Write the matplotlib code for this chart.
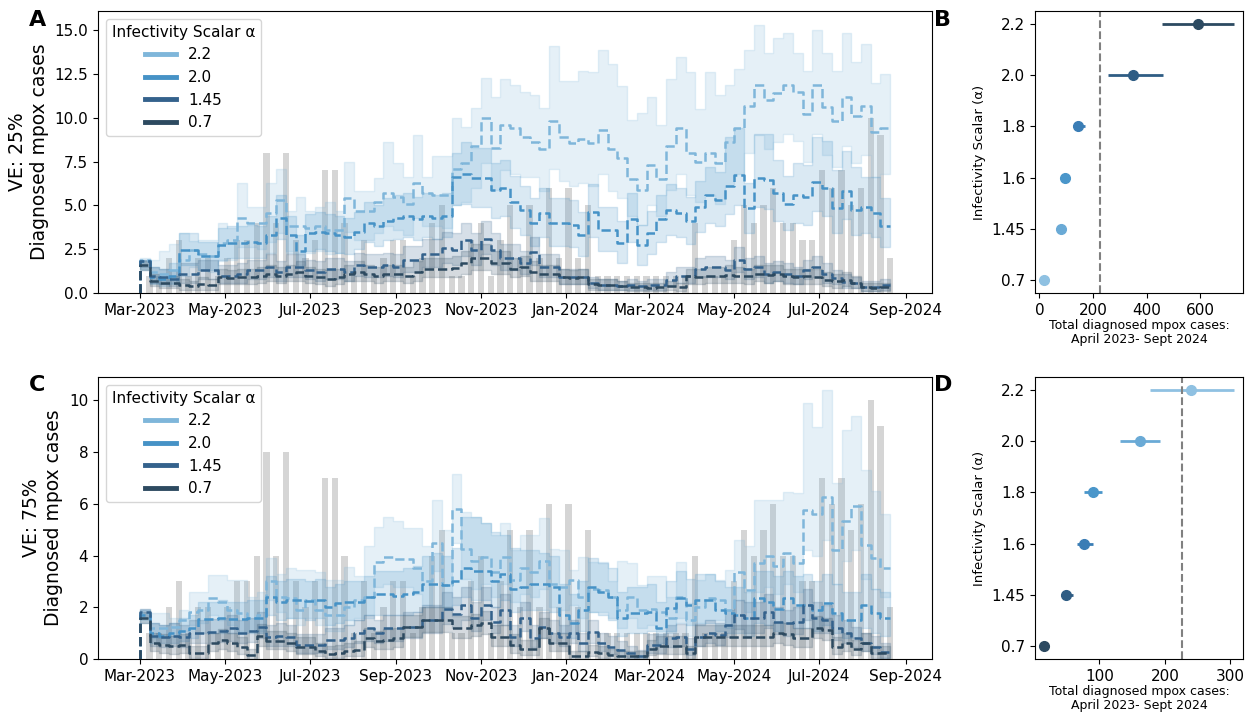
import numpy as np
import pandas as pd
import matplotlib
matplotlib.use('Agg')
import matplotlib.pyplot as plt
import matplotlib.dates as mdates
from matplotlib.lines import Line2D
from matplotlib.ticker import MultipleLocator, FormatStrFormatter

# weekly simulation output, first week starting 2023-03-01
start_date = '2023-03-01'
n_weeks = 77

# observed weekly diagnoses (weeks 1..77)
observed = [1, 1, 2, 3, 1, 2, 2, 1, 2, 3,
            3, 4, 8, 4, 8, 3, 2, 3, 7, 7,
            4, 1, 3, 1, 2, 3, 3, 1, 2, 4,
            5, 1, 1, 3, 4, 1, 3, 5, 2, 5,
            2, 6, 2, 6, 2, 5, 1, 1, 1, 1,
            1, 1, 1, 1, 1, 1, 4, 1, 1, 1,
            3, 5, 4, 5, 6, 4, 4, 3, 3, 7,
            6, 7, 5, 6, 10, 9, 2]
observed_total = 226

scalars = ['2.2', '2.0', '1.45', '0.7']
ts_colors = ['#7fb6da', '#4692c6', '#34628c', '#2d4a60']

# ---- VE 25% ----
a22_mean = [1.9, 1.2, 1.1, 1.3, 1.9, 2.45, 2.2, 2.1, 2.85, 3.0,
            4.3, 4.0, 4.0, 4.55, 5.3, 3.8, 3.8, 3.7, 3.8, 3.6,
            3.6, 5.4, 4.7, 4.7, 5.2, 5.7, 5.5, 5.1, 6.3, 5.7,
            5.6, 5.6, 7.1, 7.4, 8.4, 10.0, 8.3, 9.6, 9.4, 8.9,
            8.6, 8.2, 9.8, 8.9, 8.55, 8.8, 8.55, 9.3, 8.2, 7.7,
            6.5, 5.9, 7.3, 6.5, 8.4, 9.4, 8.0, 7.5, 8.0, 7.4,
            8.6, 9.4, 10.7, 11.9, 11.0, 11.4, 11.9, 11.5, 10.2, 11.9,
            10.6, 9.8, 11.2, 10.1, 10.7, 9.2, 9.4]
a22_hi = [2.0, 1.9, 2.4, 2.8, 3.4, 2.95, 3.0, 3.0, 4.0, 3.7,
          6.3, 4.9, 4.9, 6.3, 7.1, 4.7, 5.5, 4.7, 4.9, 5.2,
          4.7, 7.5, 5.8, 5.8, 6.55, 8.65, 7.4, 6.65, 9.0, 6.65,
          7.8, 7.8, 10.0, 9.5, 10.55, 12.3, 11.2, 12.2, 11.9, 11.5,
          11.3, 10.55, 14.1, 12.1, 12.1, 12.7, 12.6, 13.9, 13.1, 11.8,
          9.9, 10.3, 11.2, 9.6, 12.2, 13.5, 12.6, 10.5, 12.6, 11.3,
          11.9, 12.8, 13.9, 15.3, 13.7, 14.55, 14.85, 13.7, 12.7, 15.0,
          13.7, 12.7, 14.85, 13.2, 14.2, 12.0, 12.5]
a22_lo = [1.4, 0.6, 0.5, 0.6, 1.0, 1.5, 1.3, 1.2, 1.8, 1.9,
          2.6, 2.6, 2.5, 2.9, 3.4, 2.4, 2.3, 2.3, 2.4, 2.2,
          2.3, 3.5, 3.0, 3.0, 3.4, 3.8, 3.6, 3.3, 4.3, 3.8,
          3.8, 3.7, 5.0, 5.2, 6.0, 7.4, 5.9, 7.0, 6.8, 6.6,
          6.6, 5.8, 7.1, 6.4, 6.1, 6.3, 6.1, 6.8, 5.8, 5.4,
          4.4, 3.9, 5.0, 4.4, 5.9, 6.8, 5.6, 5.2, 5.6, 5.1,
          6.1, 6.8, 8.0, 9.0, 8.2, 8.6, 9.1, 8.7, 7.5, 9.1,
          7.9, 7.2, 8.4, 7.4, 7.9, 6.6, 6.8]

a20_mean = [1.8, 0.9, 0.8, 1.0, 2.45, 2.45, 2.1, 2.1, 2.75, 2.85,
            2.85, 2.9, 2.85, 3.3, 4.3, 3.3, 2.4, 3.4, 3.5, 3.4,
            3.3, 3.2, 3.5, 4.0, 3.8, 4.1, 4.3, 4.4, 4.2, 4.4,
            4.3, 4.4, 6.6, 6.8, 6.55, 6.55, 5.9, 6.0, 5.2, 4.75,
            4.0, 4.55, 4.0, 4.0, 3.9, 3.3, 4.65, 3.6, 3.6, 2.85,
            4.2, 2.75, 3.4, 4.2, 4.75, 4.55, 4.1, 4.9, 5.6, 5.3,
            6.1, 6.75, 4.85, 6.55, 6.45, 5.7, 5.1, 5.6, 5.5, 6.35,
            6.0, 4.85, 5.8, 4.75, 4.9, 4.55, 3.8]
a20_hi = [1.9, 1.5, 1.4, 1.7, 3.4, 3.4, 2.9, 2.9, 3.7, 3.8,
          3.8, 3.9, 3.8, 4.4, 5.6, 4.4, 3.3, 4.5, 4.6, 4.5,
          4.4, 4.3, 4.6, 5.2, 5.0, 5.4, 5.6, 5.7, 5.5, 5.7,
          5.6, 5.7, 8.0, 8.6, 8.3, 8.3, 7.4, 7.6, 6.7, 6.1,
          5.4, 6.0, 5.4, 5.4, 5.3, 4.6, 6.2, 4.9, 4.9, 4.1,
          5.7, 3.9, 4.7, 5.6, 6.2, 6.0, 5.5, 6.4, 7.2, 6.9,
          8.9, 9.4, 6.3, 9.1, 9.1, 7.6, 6.7, 7.4, 7.3, 8.9,
          8.7, 7.0, 8.1, 7.2, 6.6, 6.6, 5.4]
a20_lo = [1.3, 0.5, 0.4, 0.5, 1.6, 1.6, 1.3, 1.3, 1.9, 2.0,
          2.0, 2.0, 2.0, 2.3, 3.1, 2.3, 1.6, 2.4, 2.5, 2.4,
          2.3, 2.2, 2.5, 2.9, 2.7, 3.0, 3.1, 3.2, 3.0, 3.2,
          3.1, 3.2, 5.0, 5.1, 4.9, 4.9, 4.3, 4.4, 3.7, 3.3,
          2.7, 3.2, 2.7, 2.7, 2.6, 2.1, 3.2, 2.4, 2.4, 1.7,
          2.9, 1.6, 2.2, 2.9, 3.3, 3.2, 2.8, 3.5, 4.0, 3.8,
          4.5, 5.0, 3.4, 4.9, 4.8, 4.1, 3.6, 4.0, 3.9, 4.7,
          4.4, 3.4, 4.2, 3.3, 3.4, 3.2, 2.6]

a145_mean = [1.8, 1.0, 0.9, 0.8, 1.1, 1.1, 1.3, 1.3, 1.0, 1.0,
             1.1, 1.3, 1.3, 1.5, 1.2, 1.5, 1.5, 1.3, 1.2, 1.4,
             1.4, 1.2, 1.6, 1.5, 1.5, 1.6, 1.5, 1.9, 1.9, 2.25,
             2.25, 2.55, 2.45, 3.0, 2.45, 3.1, 2.45, 2.0, 2.0, 1.7,
             2.35, 1.5, 1.5, 0.9, 0.9, 0.9, 0.55, 0.45, 0.45, 0.4,
             0.45, 0.4, 0.45, 0.45, 0.75, 1.0, 1.0, 1.4, 1.5, 1.5,
             1.3, 1.9, 1.4, 1.5, 1.1, 1.2, 1.1, 0.95, 1.3, 1.5,
             1.1, 0.85, 0.65, 0.55, 0.35, 0.35, 0.45]
a145_hi = [1.9, 1.5, 1.4, 1.3, 1.7, 1.7, 1.9, 1.9, 1.6, 1.6,
           1.7, 1.9, 1.9, 2.2, 1.8, 2.2, 2.2, 1.9, 1.8, 2.0,
           2.0, 1.8, 2.3, 2.2, 2.2, 2.3, 2.2, 2.7, 2.7, 3.1,
           3.1, 3.5, 3.4, 4.0, 3.4, 4.1, 3.4, 2.8, 2.8, 2.4,
           3.2, 2.2, 2.2, 1.4, 1.4, 1.4, 0.9, 0.8, 0.8, 0.7,
           0.8, 0.7, 0.8, 0.8, 1.2, 1.5, 1.5, 2.0, 2.1, 2.1,
           1.9, 2.6, 2.0, 2.1, 1.7, 1.8, 1.7, 1.5, 1.9, 2.1,
           1.7, 1.3, 1.1, 0.9, 0.7, 0.7, 0.8]
a145_lo = [1.5, 0.6, 0.5, 0.4, 0.6, 0.6, 0.8, 0.8, 0.6, 0.6,
           0.6, 0.8, 0.8, 0.9, 0.7, 0.9, 0.9, 0.8, 0.7, 0.8,
           0.8, 0.7, 1.0, 0.9, 0.9, 1.0, 0.9, 1.2, 1.2, 1.5,
           1.5, 1.7, 1.6, 2.1, 1.6, 2.2, 1.6, 1.3, 1.3, 1.1,
           1.6, 0.9, 0.9, 0.5, 0.5, 0.5, 0.3, 0.2, 0.2, 0.2,
           0.2, 0.2, 0.2, 0.2, 0.4, 0.6, 0.6, 0.9, 0.9, 0.9,
           0.8, 1.2, 0.8, 0.9, 0.6, 0.7, 0.6, 0.5, 0.8, 0.9,
           0.6, 0.5, 0.3, 0.3, 0.1, 0.1, 0.2]

a07_mean = [1.6, 0.7, 0.55, 0.6, 0.45, 0.4, 0.5, 0.45, 0.9, 0.85,
            0.9, 0.9, 1.0, 1.1, 1.0, 1.1, 1.2, 1.0, 0.9, 0.8,
            0.9, 1.1, 1.2, 1.1, 1.0, 1.1, 1.1, 1.0, 1.2, 1.4,
            1.4, 1.35, 1.45, 1.7, 2.0, 2.0, 1.7, 1.7, 1.4, 1.5,
            1.2, 1.1, 1.1, 0.9, 0.85, 0.9, 0.5, 0.45, 0.45, 0.4,
            0.35, 0.35, 0.3, 0.35, 0.4, 0.35, 0.95, 0.9, 1.0, 1.0,
            1.05, 1.0, 0.95, 1.1, 1.05, 1.1, 0.95, 0.9, 0.95, 0.9,
            0.75, 0.7, 0.75, 0.6, 0.35, 0.3, 0.35]
a07_hi = [1.8, 1.1, 0.9, 1.0, 0.8, 0.7, 0.9, 0.8, 1.4, 1.3,
          1.4, 1.4, 1.5, 1.6, 1.5, 1.6, 1.8, 1.5, 1.4, 1.3,
          1.4, 1.6, 1.8, 1.6, 1.5, 1.6, 1.6, 1.5, 1.8, 2.0,
          2.0, 2.0, 2.1, 2.4, 2.8, 2.8, 2.4, 2.4, 2.0, 2.1,
          1.8, 1.6, 1.6, 1.4, 1.3, 1.4, 0.8, 0.8, 0.8, 0.7,
          0.6, 0.6, 0.6, 0.6, 0.7, 0.6, 1.4, 1.4, 1.5, 1.5,
          1.6, 1.5, 1.4, 1.6, 1.6, 1.6, 1.4, 1.4, 1.4, 1.4,
          1.2, 1.1, 1.2, 1.0, 0.6, 0.6, 0.6]
a07_lo = [1.3, 0.4, 0.3, 0.3, 0.2, 0.2, 0.2, 0.2, 0.5, 0.5,
          0.5, 0.5, 0.6, 0.7, 0.6, 0.7, 0.7, 0.6, 0.5, 0.4,
          0.5, 0.7, 0.7, 0.7, 0.6, 0.7, 0.7, 0.6, 0.7, 0.9,
          0.9, 0.9, 0.9, 1.1, 1.3, 1.3, 1.1, 1.1, 0.9, 1.0,
          0.7, 0.7, 0.7, 0.5, 0.5, 0.5, 0.2, 0.2, 0.2, 0.2,
          0.1, 0.1, 0.1, 0.1, 0.2, 0.1, 0.5, 0.5, 0.6, 0.6,
          0.6, 0.6, 0.5, 0.7, 0.6, 0.7, 0.5, 0.5, 0.5, 0.5,
          0.4, 0.3, 0.4, 0.3, 0.1, 0.1, 0.1]

# ---- VE 75% ----
c22_mean = [1.76, 1.2, 1.2, 1.25, 1.5, 1.83, 1.9, 2.35, 2.2, 1.9,
            1.76, 1.6, 1.7, 3.0, 2.4, 2.35, 1.9, 2.3, 1.9, 1.7,
            1.7, 2.0, 2.3, 2.4, 3.75, 3.95, 3.85, 3.85, 3.5, 3.0,
            4.5, 2.85, 5.8, 4.25, 3.8, 3.95, 3.37, 3.95, 3.05, 3.5,
            3.37, 3.8, 2.9, 2.8, 3.05, 2.4, 2.7, 2.65, 2.4, 1.9,
            2.4, 1.9, 1.95, 1.8, 1.6, 2.4, 1.5, 2.0, 2.35, 2.3,
            1.9, 3.37, 2.65, 3.7, 4.0, 3.6, 4.1, 3.7, 5.75, 5.6,
            6.25, 4.2, 5.35, 5.9, 4.4, 3.9, 3.5]
c22_hi = [1.95, 1.76, 1.76, 1.57, 1.9, 2.6, 2.6, 3.25, 3.25, 3.05,
          3.05, 2.4, 2.6, 3.9, 3.3, 3.5, 3.45, 3.45, 3.37, 3.05,
          3.05, 3.55, 3.2, 4.35, 5.1, 5.5, 5.35, 5.05, 5.05, 4.35,
          6.15, 5.0, 7.15, 5.7, 5.5, 5.25, 4.8, 5.25, 4.2, 4.8,
          4.8, 5.45, 4.25, 4.2, 3.45, 3.95, 3.75, 3.75, 3.0, 3.8,
          3.7, 2.85, 3.2, 3.2, 2.4, 3.75, 2.15, 3.05, 3.3, 3.05,
          3.45, 4.6, 4.35, 6.15, 6.15, 6.15, 6.45, 6.4, 9.9, 8.95,
          10.4, 6.8, 8.85, 9.4, 7.3, 6.5, 5.6]
c22_lo = [1.5, 0.8, 0.8, 0.9, 1.1, 1.3, 1.4, 1.7, 1.5, 1.3,
          1.1, 1.1, 1.1, 2.3, 1.8, 1.6, 1.3, 1.6, 1.3, 1.1,
          1.1, 1.3, 1.6, 1.6, 2.8, 2.9, 2.8, 2.8, 2.5, 2.1,
          3.4, 1.9, 4.5, 3.1, 2.7, 2.9, 2.4, 2.9, 2.2, 2.5,
          2.4, 2.7, 2.0, 1.9, 2.1, 1.6, 1.8, 1.8, 1.6, 1.2,
          1.6, 1.2, 1.3, 1.1, 1.0, 1.6, 0.9, 1.3, 1.5, 1.5,
          1.2, 2.3, 1.8, 2.6, 2.8, 2.5, 2.9, 2.6, 4.2, 4.0,
          4.6, 2.9, 3.8, 4.2, 3.1, 2.7, 2.4]

c20_mean = [1.7, 1.0, 0.9, 1.0, 1.1, 1.2, 1.55, 1.55, 1.6, 1.55,
            1.55, 1.6, 1.6, 2.4, 2.2, 2.3, 2.3, 2.25, 2.3, 2.0,
            2.15, 2.2, 2.2, 2.4, 2.5, 2.5, 2.45, 2.5, 2.6, 2.9,
            2.9, 2.85, 3.0, 3.5, 3.4, 3.4, 3.0, 3.3, 2.7, 2.8,
            2.9, 2.9, 2.8, 1.7, 1.4, 1.9, 2.8, 2.6, 2.4, 1.57,
            1.76, 1.76, 1.83, 1.2, 1.96, 2.34, 2.1, 2.3, 2.3, 1.9,
            1.76, 1.7, 1.57, 2.35, 2.2, 1.95, 2.35, 2.1, 2.1, 1.9,
            2.15, 1.76, 1.5, 1.5, 2.1, 1.76, 1.57]
c20_hi = [1.9, 1.4, 1.3, 1.4, 1.6, 1.7, 2.2, 2.2, 2.3, 2.2,
          2.2, 2.3, 2.3, 3.2, 3.0, 3.1, 3.1, 3.0, 3.1, 2.8,
          2.9, 3.0, 3.0, 3.2, 3.4, 3.4, 3.4, 3.5, 3.6, 4.0,
          4.1, 4.0, 4.3, 5.5, 5.5, 5.25, 4.9, 4.8, 4.3, 4.2,
          4.2, 4.1, 4.0, 2.9, 2.5, 3.0, 3.9, 3.7, 3.5, 2.6,
          2.8, 2.8, 2.9, 2.2, 3.0, 3.4, 3.1, 3.3, 3.3, 3.0,
          2.8, 2.8, 2.6, 3.4, 3.4, 3.2, 3.4, 3.2, 3.3, 3.0,
          3.3, 2.9, 2.6, 2.6, 3.3, 2.7, 2.6]
c20_lo = [1.4, 0.6, 0.6, 0.6, 0.7, 0.8, 1.0, 1.0, 1.0, 1.0,
          1.0, 1.0, 1.0, 1.7, 1.5, 1.6, 1.6, 1.5, 1.6, 1.3,
          1.4, 1.5, 1.5, 1.7, 1.7, 1.7, 1.7, 1.7, 1.8, 2.0,
          2.0, 2.0, 2.1, 2.4, 2.3, 2.3, 2.0, 2.3, 1.8, 1.9,
          1.9, 1.9, 1.8, 1.0, 0.8, 1.1, 1.8, 1.7, 1.5, 0.9,
          1.0, 1.0, 1.1, 0.6, 1.1, 1.4, 1.3, 1.4, 1.4, 1.1,
          1.0, 1.0, 0.9, 1.4, 1.3, 1.1, 1.4, 1.2, 1.2, 1.1,
          1.3, 1.0, 0.8, 0.8, 1.2, 1.0, 0.9]

c145_mean = [1.8, 0.9, 0.85, 0.9, 0.85, 1.0, 1.0, 1.05, 1.1, 1.18,
             1.0, 1.1, 1.25, 0.86, 0.9, 0.86, 0.55, 0.55, 0.55, 0.73,
             0.73, 0.8, 1.0, 1.18, 1.0, 1.18, 1.2, 1.25, 1.25, 1.5,
             1.5, 1.95, 1.75, 2.1, 1.6, 2.1, 1.45, 1.9, 0.86, 1.6,
             0.8, 1.25, 1.0, 0.86, 1.0, 0.6, 1.05, 0.6, 0.48, 0.35,
             0.22, 0.1, 0.55, 0.55, 0.8, 0.86, 0.4, 0.86, 1.0, 0.92,
             1.3, 1.7, 1.57, 1.57, 1.83, 1.44, 1.38, 1.44, 2.08, 1.57,
             1.5, 1.18, 1.0, 0.8, 0.6, 0.48, 0.28]
c145_hi = [1.95, 1.4, 1.3, 1.4, 1.3, 1.5, 1.5, 1.55, 1.6, 1.7,
           1.5, 1.6, 1.8, 1.3, 1.4, 1.3, 0.95, 0.95, 0.95, 1.2,
           1.2, 1.3, 1.5, 1.7, 1.5, 1.7, 1.7, 1.8, 1.8, 2.1,
           2.1, 2.6, 2.4, 2.8, 2.2, 2.8, 2.0, 2.5, 1.3, 2.2,
           1.3, 1.8, 1.5, 1.3, 1.5, 1.0, 1.5, 1.0, 0.9, 0.7,
           0.5, 0.35, 0.95, 0.95, 1.3, 1.35, 0.8, 1.35, 1.5, 1.4,
           1.9, 2.3, 2.2, 2.2, 2.5, 2.0, 1.9, 2.0, 2.7, 2.2,
           2.1, 1.7, 1.5, 1.25, 1.0, 0.9, 0.6]
c145_lo = [1.6, 0.5, 0.45, 0.5, 0.45, 0.6, 0.6, 0.6, 0.65, 0.7,
           0.6, 0.65, 0.8, 0.5, 0.5, 0.5, 0.25, 0.25, 0.25, 0.4,
           0.4, 0.45, 0.6, 0.7, 0.6, 0.7, 0.7, 0.8, 0.8, 1.0,
           1.0, 1.35, 1.2, 1.5, 1.1, 1.5, 1.0, 1.3, 0.5, 1.1,
           0.45, 0.8, 0.6, 0.5, 0.6, 0.3, 0.6, 0.3, 0.2, 0.1,
           0.05, 0.0, 0.25, 0.25, 0.45, 0.5, 0.15, 0.5, 0.6, 0.55,
           0.85, 1.15, 1.0, 1.0, 1.2, 0.95, 0.9, 0.95, 1.5, 1.0,
           1.0, 0.75, 0.6, 0.45, 0.3, 0.2, 0.05]

c07_mean = [1.6, 0.6, 0.55, 0.5, 0.55, 0.22, 0.22, 0.6, 0.73, 0.6,
            0.45, 0.15, 0.9, 0.7, 0.7, 0.6, 0.45, 0.45, 0.3, 0.2,
            0.25, 0.3, 0.35, 0.8, 0.7, 0.75, 0.8, 1.25, 1.25, 1.5,
            1.5, 1.5, 1.2, 1.2, 1.3, 1.38, 0.86, 0.86, 0.55, 0.4,
            0.4, 1.18, 0.6, 0.6, 0.1, 0.1, 0.28, 0.22, 0.15, 0.1,
            0.1, 0.1, 0.4, 0.5, 0.5, 0.5, 0.22, 0.86, 0.86, 0.86,
            0.86, 0.86, 0.86, 0.86, 0.86, 1.0, 0.95, 0.8, 0.8, 1.18,
            1.12, 0.48, 0.6, 0.4, 0.6, 0.22, 0.22]
c07_hi = [1.8, 1.0, 0.95, 0.9, 0.95, 0.5, 0.5, 1.0, 1.15, 1.0,
          0.85, 0.4, 1.35, 1.1, 1.1, 1.0, 0.85, 0.85, 0.6, 0.5,
          0.55, 0.6, 0.7, 1.2, 1.1, 1.15, 1.2, 1.7, 1.7, 2.0,
          2.0, 2.0, 1.65, 1.65, 1.75, 1.85, 1.3, 1.3, 0.95, 0.75,
          0.75, 1.6, 1.0, 1.0, 0.3, 0.3, 0.55, 0.5, 0.4, 0.3,
          0.3, 0.3, 0.75, 0.9, 0.9, 0.9, 0.5, 1.3, 1.3, 1.3,
          1.3, 1.3, 1.3, 1.3, 1.3, 1.45, 1.4, 1.2, 1.2, 1.65,
          1.6, 0.85, 1.0, 0.75, 1.0, 0.5, 0.5]
c07_lo = [1.4, 0.3, 0.25, 0.2, 0.25, 0.05, 0.05, 0.3, 0.4, 0.3,
          0.2, 0.0, 0.5, 0.4, 0.4, 0.3, 0.2, 0.2, 0.1, 0.05,
          0.05, 0.1, 0.1, 0.45, 0.4, 0.4, 0.45, 0.85, 0.85, 1.05,
          1.05, 1.05, 0.8, 0.8, 0.9, 0.95, 0.5, 0.5, 0.25, 0.15,
          0.15, 0.8, 0.3, 0.3, 0.0, 0.0, 0.1, 0.05, 0.0, 0.0,
          0.0, 0.0, 0.15, 0.2, 0.2, 0.2, 0.05, 0.5, 0.5, 0.5,
          0.5, 0.5, 0.5, 0.5, 0.5, 0.6, 0.55, 0.45, 0.45, 0.8,
          0.75, 0.2, 0.3, 0.15, 0.3, 0.05, 0.05]

# ---- totals Apr 2023 - Sep 2024 per scalar ----
summary_alpha = ['0.7', '1.45', '1.6', '1.8', '2.0', '2.2']
summary_colors = ['#8fc1e2', '#6aaad6', '#4a96ca', '#3a7db5', '#2f5d84', '#2c4a61']
b_total = [19, 82, 97, 146, 350, 594]
b_lo = [19, 76, 90, 125, 256, 459]
b_hi = [19, 88, 105, 171, 460, 725]
d_total = [16, 49, 77, 90, 162, 240]
d_lo = [16, 42, 66, 77, 132, 178]
d_hi = [16, 60, 90, 104, 193, 305]

weeks = pd.date_range(start_date, periods=n_weeks + 1, freq='7D')

fig = plt.figure(figsize=(12.47, 7.14), dpi=100)
ax_a = fig.add_axes([0.0786, 0.5896, 0.6688, 0.395])
ax_b = fig.add_axes([0.830, 0.5896, 0.1668, 0.395])
ax_c = fig.add_axes([0.0786, 0.077, 0.6688, 0.395])
ax_d = fig.add_axes([0.830, 0.077, 0.1668, 0.395])


def draw_timeseries(ax, series, ve, ytop, ystep):
    ax.bar(weeks[1:], observed, width=4.5, color='gray', alpha=0.33, zorder=1)
    for (mean, lo, hi), c in zip(series, ts_colors):
        ax.fill_between(weeks, np.r_[lo[0], lo], np.r_[hi[0], hi], step='pre',
                        color=c, alpha=0.2, zorder=2)
    for (mean, lo, hi), c in zip(series, ts_colors):
        ax.step(weeks, np.r_[0, mean], where='pre', color=c, ls='--', lw=1.8, zorder=3)
    ax.set_xlim(pd.Timestamp('2023-01-30'), pd.Timestamp('2024-09-20'))
    ax.set_ylim(0, ytop)
    ax.xaxis.set_major_locator(mdates.MonthLocator(bymonth=[1, 3, 5, 7, 9, 11]))
    ax.xaxis.set_major_formatter(mdates.DateFormatter('%b-%Y'))
    ax.yaxis.set_major_locator(MultipleLocator(ystep))
    if ystep < 1:
        ax.yaxis.set_major_formatter(FormatStrFormatter('%.1f'))
    ax.tick_params(labelsize=11)
    ax.set_ylabel('VE: %s\nDiagnosed mpox cases' % ve, fontsize=13.5, labelpad=4)
    handles = [Line2D([0], [0], color=c, lw=3.5) for c in ts_colors]
    ax.legend(handles, scalars, title='Infectivity Scalar α', loc='upper left',
              fontsize=11, title_fontsize=11)


def draw_summary(ax, total, lo, hi, colors):
    ypos = np.arange(len(summary_alpha))
    for y, t, l, h, c in zip(ypos, total, lo, hi, colors):
        ax.errorbar(t, y, xerr=[[t - l], [h - t]], fmt='o', color=c, ms=7,
                    elinewidth=2, capsize=0)
    ax.axvline(observed_total, color='gray', ls='--', lw=1.5)
    ax.set_yticks(ypos)
    ax.set_yticklabels(summary_alpha)
    ax.tick_params(labelsize=11)
    ax.set_ylabel('Infectivity Scalar (α)', fontsize=9.5)
    ax.set_xlabel('Total diagnosed mpox cases:\nApril 2023- Sept 2024', fontsize=9,
                  labelpad=1, linespacing=1.1)


draw_timeseries(ax_a, [(a22_mean, a22_lo, a22_hi), (a20_mean, a20_lo, a20_hi),
                       (a145_mean, a145_lo, a145_hi), (a07_mean, a07_lo, a07_hi)],
                '25%', 16.1, 2.5)
draw_timeseries(ax_c, [(c22_mean, c22_lo, c22_hi), (c20_mean, c20_lo, c20_hi),
                       (c145_mean, c145_lo, c145_hi), (c07_mean, c07_lo, c07_hi)],
                '75%', 10.9, 2)

draw_summary(ax_b, b_total, b_lo, b_hi, summary_colors)
ax_b.set_xticks([0, 200, 400, 600])
draw_summary(ax_d, d_total, d_lo, d_hi, summary_colors[::-1])
ax_d.set_xticks([100, 200, 300])

for label, x, y in [('A', 0.0297, 0.972), ('B', 0.756, 0.972),
                    ('C', 0.0297, 0.461), ('D', 0.756, 0.461)]:
    fig.text(x, y, label, fontsize=16, fontweight='bold', ha='center', va='center')

fig.savefig('out.png', dpi=100)
